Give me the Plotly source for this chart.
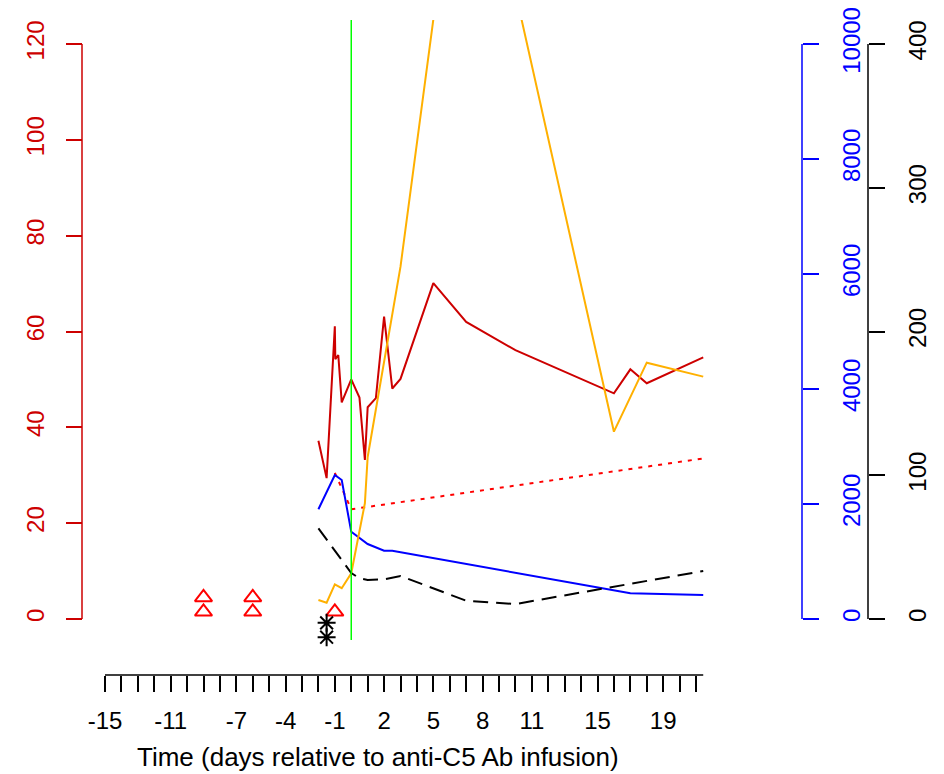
import plotly.graph_objects as go

# ---------------- data ----------------
red_t = [-2, -1.5, -1.0, -0.97, -0.79, -0.58, 0, 0.5, 0.83, 1, 1.5, 2, 2.5, 3, 5, 7, 10, 16, 17, 18, 21.44]
red_v = [37.2, 29.4, 61.1, 54.2, 55.1, 45.2, 50.0, 46.2, 33.2, 44.2, 46.1, 63.1, 48.1, 50.1, 70.1, 62.0, 56.1, 47.1, 52.1, 49.2, 54.6]

dot_t = [-1, 0, 21.44]
dot_v = [30.5, 22.9, 33.5]

blue_t = [-2, -1, -0.58, 0, 1, 2, 2.5, 17, 21.44]
blue_v = [1908, 2504, 2417, 1518, 1304, 1188, 1188, 447, 417]

dash_t = [-2, 0, 0.5, 1, 2, 3, 7, 10, 21.44]
dash_v = [63.1, 32.0, 28.3, 27.1, 27.6, 29.9, 12.7, 10.4, 33.4]

orange_t = [-2, -1.5, -1, -0.58, 0, 0.83, 1, 3, 7, 16, 18, 21.44]
orange_v = [13.2, 11.3, 24.1, 21.4, 31.8, 80.5, 112.7, 245.1, 589, 130.3, 178.3, 168.6]

tri_t = [-9, -9, -6, -6, -1]
tri_v = [4.5, 1.5, 4.5, 1.5, 1.5]

star_t = [-1.5, -1.5]
star_v = [-0.8, -3.8]

x_ticks = list(range(-15, 22))
x_labels = [-15, -11, -7, -4, -1, 2, 5, 8, 11, 15, 19]
x_end = 21.44

left_ticks = [0, 20, 40, 60, 80, 100, 120]
blue_ticks = [0, 2000, 4000, 6000, 8000, 10000]
black_ticks = [0, 100, 200, 300, 400]

# ---------------- layout helpers ----------------
OFF = 8                      # page body margin of the browser
W, H = 944 - OFF, 774 - OFF
def px(p):
    return (p - OFF) / W
def py(p):
    return 1 - (p - OFF) / H

RED3 = "#CD0000"
BLUE = "#0000FF"
ORANGE = "#FFB000"
FONT = "Liberation Sans, Arial, sans-serif"
FS = 24

# pixel geometry of plot region (in window pixels)
X_LEFT, X_RIGHT = 82, 802
Y_TOP, Y_BOT = 20, 640
DAY0_PX, PX_PER_DAY = 351.25, 16.417
Y0_PX, Y120_PX = 619, 44
ppu = (Y0_PX - Y120_PX) / 120.0
lo = (Y0_PX - Y_BOT) / ppu
hi = (Y0_PX - Y_TOP) / ppu

fig = go.Figure()

fig.add_trace(go.Scatter(x=orange_t, y=orange_v, yaxis="y3", mode="lines",
                         line=dict(color=ORANGE, width=2)))
fig.add_trace(go.Scatter(x=dash_t, y=dash_v, yaxis="y3", mode="lines",
                         line=dict(color="black", width=2, dash="15px,8px")))
fig.add_trace(go.Scatter(x=blue_t, y=blue_v, yaxis="y2", mode="lines",
                         line=dict(color=BLUE, width=2)))
fig.add_trace(go.Scatter(x=dot_t, y=dot_v, yaxis="y", mode="lines",
                         line=dict(color="#FF0000", width=2, dash="4px,6px")))
fig.add_trace(go.Scatter(x=red_t, y=red_v, yaxis="y", mode="lines",
                         line=dict(color=RED3, width=2)))
fig.add_trace(go.Scatter(x=tri_t, y=tri_v, yaxis="y", mode="markers", cliponaxis=False,
                         marker=dict(symbol="triangle-up-open", size=15, color="#FF0000",
                                     line=dict(width=2, color="#FF0000"))))
fig.add_trace(go.Scatter(x=star_t, y=star_v, yaxis="y", mode="markers", cliponaxis=False,
                         marker=dict(symbol="asterisk-open", size=15, color="black",
                                     line=dict(width=2, color="black"))))

ydom = [py(Y_BOT), py(Y_TOP)]

common = dict(showgrid=False, zeroline=False, showline=False, ticks="outside",
              ticklen=16, tickwidth=1.5, ticklabeloverflow="allow", automargin=False)

fig.update_layout(
    width=W, height=H,
    margin=dict(l=0, r=0, t=0, b=0, autoexpand=False),
    paper_bgcolor="white", plot_bgcolor="white",
    showlegend=False,
    font=dict(family=FONT, size=FS, color="black"),
    xaxis=dict(
        domain=[px(X_LEFT), px(X_RIGHT)],
        range=[(X_LEFT - DAY0_PX) / PX_PER_DAY, (X_RIGHT - DAY0_PX) / PX_PER_DAY],
        anchor="free", position=py(675), tickcolor="black",
        tickvals=x_ticks,
        ticktext=[str(t) if t in x_labels else "" for t in x_ticks],
        tickfont=dict(size=FS, color="black"),
        ticklabelstandoff=8, **common,
    ),
    yaxis=dict(
        domain=ydom, range=[lo, hi],
        anchor="free", position=px(X_LEFT), side="left", tickcolor=RED3,
        tickvals=left_ticks, ticktext=[str(t) for t in left_ticks], tickangle=-90,
        tickfont=dict(size=FS, color=RED3),
        ticklabelstandoff=12, **common,
    ),
    yaxis2=dict(
        domain=ydom, range=[lo / 120 * 10000, hi / 120 * 10000],
        overlaying="y", anchor="free", position=px(802), side="right", tickcolor=BLUE,
        tickvals=blue_ticks, ticktext=[str(t) for t in blue_ticks], tickangle=-90,
        tickfont=dict(size=FS, color=BLUE),
        ticklabelstandoff=12, **common,
    ),
    yaxis3=dict(
        domain=ydom, range=[lo / 120 * 400, hi / 120 * 400],
        overlaying="y", anchor="free", position=px(868), side="right", tickcolor="black",
        tickvals=black_ticks, ticktext=[str(t) for t in black_ticks], tickangle=-90,
        tickfont=dict(size=FS, color="black"),
        ticklabelstandoff=12, **common,
    ),
)

shapes = [
    # axis lines spanning first to last tick (R style)
    dict(type="line", xref="x", yref="paper", x0=x_ticks[0], x1=x_end,
         y0=py(675), y1=py(675), line=dict(color="black", width=1.5)),
    dict(type="line", xref="paper", yref="y", x0=px(X_LEFT), x1=px(X_LEFT),
         y0=left_ticks[0], y1=left_ticks[-1], line=dict(color=RED3, width=1.5)),
    dict(type="line", xref="paper", yref="y2", x0=px(802), x1=px(802),
         y0=blue_ticks[0], y1=blue_ticks[-1], line=dict(color=BLUE, width=1.5)),
    dict(type="line", xref="paper", yref="y3", x0=px(868), x1=px(868),
         y0=black_ticks[0], y1=black_ticks[-1], line=dict(color="black", width=1.5)),
    # infusion day marker
    dict(type="line", xref="x", yref="paper", x0=0, x1=0, y0=ydom[0], y1=ydom[1],
         line=dict(color="#00FF00", width=1.5), layer="above"),
]
fig.update_layout(shapes=shapes)

fig.add_annotation(text="Time (days relative to anti-C5 Ab infusion)",
                   xref="paper", yref="paper", x=px(378), y=py(757),
                   xanchor="center", yanchor="middle", showarrow=False,
                   font=dict(size=26, color="black", family=FONT))

fig.write_html("out.html")
